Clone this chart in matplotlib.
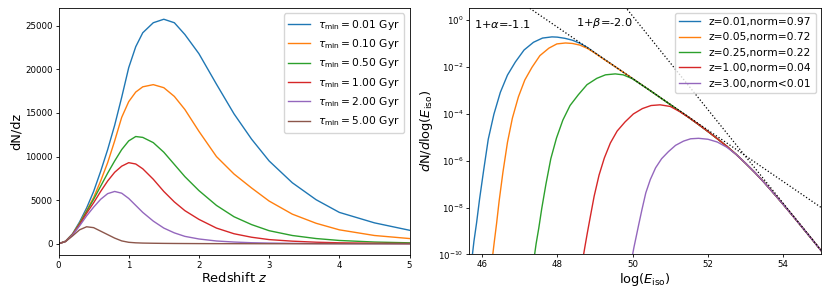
import numpy as np
import matplotlib
matplotlib.use("Agg")
from matplotlib import pyplot as plt
from matplotlib.ticker import NullLocator

# ---- left panel: dN/dz vs redshift for several minimum delay times ----
z = [0, 0.1, 0.2, 0.3, 0.4, 0.5, 0.6, 0.7, 0.8, 0.9, 1.0, 1.1, 1.2, 1.35,
     1.5, 1.65, 1.8, 2.0, 2.25, 2.5, 2.75, 3.0, 3.33, 3.67, 4.0, 4.5, 5.0]
tau_labels = ["0.01", "0.10", "0.50", "1.00", "2.00", "5.00"]
dndz_001 = [0, 300, 1150, 2500, 4100, 6000, 8300, 10800, 13600, 16800, 20200,
            22600, 24200, 25350, 25750, 25350, 24000, 21800, 18300, 14900,
            12000, 9500, 7000, 5050, 3600, 2400, 1550]
dndz_010 = [0, 290, 1100, 2350, 3800, 5300, 7200, 9300, 11800, 14500, 16300,
            17400, 18000, 18250, 17900, 16900, 15400, 12900, 10000, 8000,
            6400, 4900, 3400, 2350, 1600, 950, 600]
dndz_050 = [0, 280, 1080, 2300, 3700, 5100, 6600, 8100, 9500, 10800, 11800,
            12300, 12200, 11600, 10500, 9100, 7700, 6100, 4400, 3100, 2200,
            1500, 950, 600, 380, 200, 110]
dndz_100 = [0, 270, 1050, 2200, 3500, 4700, 6000, 7200, 8200, 8900, 9300,
            9150, 8600, 7400, 6000, 4800, 3800, 2800, 1800, 1150, 750, 480,
            300, 180, 110, 60, 30]
dndz_200 = [0, 260, 1000, 2050, 3200, 4200, 5100, 5750, 6000, 5800, 5200,
            4400, 3600, 2600, 1800, 1250, 850, 550, 320, 200, 120, 80, 45, 25,
            15, 8, 4]
dndz_500 = [0, 250, 900, 1600, 1950, 1850, 1450, 1050, 650, 330, 170, 110, 80,
            60, 45, 35, 28, 20, 14, 10, 7, 5, 4, 3, 2, 1, 1]
dndz = [dndz_001, dndz_010, dndz_050, dndz_100, dndz_200, dndz_500]

# ---- right panel: dN/dlog(E_iso), stored as log10 values ----
z_labels = ["z=0.01,norm=0.97", "z=0.05,norm=0.72", "z=0.25,norm=0.22",
            "z=1.00,norm=0.04", "z=3.00,norm<0.01"]
# common high-energy tail (broken power law), shared by all curves
tail_E = [48.5, 48.75, 49.0, 49.25, 49.5, 49.75, 50.0, 50.25, 50.5, 50.75,
          51.0, 51.25, 51.5, 51.75, 52.0, 52.25, 52.5, 52.75, 53.0, 53.25,
          53.5, 53.75, 54.0, 54.25, 54.5, 54.75, 55.0]
tail_logN = [-0.84, -1.115, -1.39, -1.665, -1.94, -2.215, -2.49, -2.765,
             -3.04, -3.32, -3.60, -3.88, -4.16, -4.45, -4.75, -5.06, -5.38,
             -5.73, -6.11, -6.51, -6.94, -7.40, -7.87, -8.35, -8.84, -9.33,
             -9.83]
# low-energy part of each curve, up to where it joins the tail
E_z001 = [45.75, 45.79, 45.86, 45.94, 46.05, 46.17, 46.32, 46.49, 46.68,
          46.89, 47.12, 47.37, 47.61, 47.86, 48.0, 48.2, 48.4, 48.6, 48.8]
N_z001 = [-10, -9.44, -8.65, -7.63, -6.38, -5.08, -4.01, -3.08, -2.34, -1.78,
          -1.27, -0.94, -0.76, -0.71, -0.72, -0.77, -0.85, -0.98, -1.16]
E_z005 = [46.29, 46.33, 46.39, 46.46, 46.56, 46.68, 46.81, 46.97, 47.14,
          47.33, 47.54, 47.78, 47.99, 48.22, 48.4, 48.6, 48.8, 49.0, 49.25]
N_z005 = [-10, -9.46, -8.69, -7.70, -6.48, -5.21, -4.18, -3.27, -2.55, -2.01,
          -1.51, -1.19, -1.01, -0.97, -0.99, -1.06, -1.2, -1.4, -1.68]
E_z025 = [47.40, 47.44, 47.51, 47.59, 47.70, 47.83, 47.98, 48.15, 48.34,
          48.56, 48.79, 49.05, 49.28, 49.54, 49.75, 50.0, 50.25]
N_z025 = [-10, -9.54, -8.88, -8.03, -7.0, -5.91, -5.03, -4.26, -3.64, -3.18,
          -2.75, -2.48, -2.33, -2.29, -2.33, -2.5, -2.77]
E_z100 = [48.70, 48.74, 48.80, 48.88, 48.98, 49.11, 49.25, 49.41, 49.59,
          49.80, 50.02, 50.26, 50.49, 50.73, 51.0, 51.25]
N_z100 = [-10, -9.62, -9.07, -8.37, -7.51, -6.61, -5.88, -5.24, -4.73, -4.34,
          -4.0, -3.77, -3.64, -3.61, -3.68, -3.9]
E_z300 = [50.0, 50.035, 50.09, 50.16, 50.25, 50.35, 50.47, 50.61, 50.77,
          50.95, 51.14, 51.35, 51.54, 51.75, 52.0, 52.25, 52.5, 52.75]
N_z300 = [-10, -9.70, -9.28, -8.74, -8.07, -7.37, -6.80, -6.30, -5.91, -5.61,
          -5.34, -5.16, -5.06, -5.04, -5.08, -5.2, -5.42, -5.73]
rise_E = [E_z001, E_z005, E_z025, E_z100, E_z300]
rise_logN = [N_z001, N_z005, N_z025, N_z100, N_z300]
# the two reference power laws (dotted)
alpha_E = [46.5, 55.0]
alpha_logN = [1.36, -7.99]
beta_E = [49.5, 55.0]
beta_logN = [1.18, -9.82]

plt.rcParams["font.family"] = "DejaVu Sans"
plt.rcParams["axes.linewidth"] = 0.6

fig = plt.figure(figsize=(8.3, 2.97), dpi=100)
ax1 = fig.add_axes([0.0705, 0.1414, 0.4229, 0.8316])
ax2 = fig.add_axes([0.5651, 0.1431, 0.4241, 0.8316])

for tau, vals in zip(tau_labels, dndz):
    ax1.plot(z, vals, lw=1.0, label=r"$\tau_{\rm min}=%s$ Gyr" % tau)
ax1.set_xlim(0, 5)
ax1.set_xlabel(r"Redshift $z$", fontsize=9.3, labelpad=1)
ax1.set_ylabel("dN/dz", fontsize=9.3, labelpad=2)
ax1.legend(fontsize=7.7, loc="upper right")

for E_r, N_r, lab in zip(rise_E, rise_logN, z_labels):
    E = E_r + [e for e in tail_E if e > E_r[-1] + 1e-6]
    logN = N_r + [v for e, v in zip(tail_E, tail_logN) if e > E_r[-1] + 1e-6]
    ax2.plot(E, 10 ** np.array(logN), lw=1.0, label=lab)
ax2.plot(alpha_E, 10 ** np.array(alpha_logN), "k:", lw=0.9)
ax2.plot(beta_E, 10 ** np.array(beta_logN), "k:", lw=0.9)
ax2.set_yscale("log")
ax2.yaxis.set_minor_locator(NullLocator())
ax2.set_xlim(45.66, 55)
ax2.set_ylim(1e-10, 3.5)
ax2.set_xticks([46, 48, 50, 52, 54])
ax2.set_xlabel(r"log($E_{\rm iso}$)", fontsize=9.3, labelpad=1)
ax2.set_ylabel(r"$d$N/$d$log($E_{\rm iso}$)", fontsize=9.3, labelpad=2)
ax2.text(0.015, 0.935, r"1+$\alpha$=-1.1", transform=ax2.transAxes,
         fontsize=8.2, va="center")
ax2.text(48.5, 10 ** -0.12, r"1+$\beta$=-2.0", fontsize=8.2, va="center")
ax2.legend(fontsize=7.7, loc="upper right")

for ax in (ax1, ax2):
    ax.tick_params(labelsize=6.2, length=2.2, width=0.6, pad=2)

fig.savefig("out.png", dpi=100)
